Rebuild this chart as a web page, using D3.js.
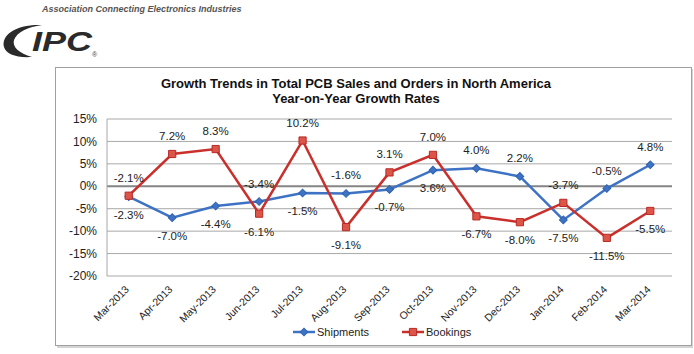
<!DOCTYPE html>
<html>
<head>
<meta charset="utf-8">
<script src="https://cdn.jsdelivr.net/npm/d3@7"></script>
<style>
body { margin: 0; background: #fff; }
svg { display: block; font-family: Arial, "Liberation Sans", sans-serif; }
</style>
</head>
<body>
<svg id="chart" width="694" height="354"></svg>
<script>
var months = ["Mar-2013", "Apr-2013", "May-2013", "Jun-2013", "Jul-2013", "Aug-2013", "Sep-2013",
    "Oct-2013", "Nov-2013", "Dec-2013", "Jan-2014", "Feb-2014", "Mar-2014"];
var shipments = [-2.3, -7.0, -4.4, -3.4, -1.5, -1.6, -0.7, 3.6, 4.0, 2.2, -7.5, -0.5, 4.8];
var bookings = [-2.1, 7.2, 8.3, -6.1, 10.2, -9.1, 3.1, 7.0, -6.7, -8.0, -3.7, -11.5, -5.5];
var yTicks = [-20, -15, -10, -5, 0, 5, 10, 15];
// which side of the point each data label sits on (t = above, b = below)
var shipSide = ["b", "b", "b", "t", "b", "t", "b", "b", "t", "t", "b", "t", "t"];
var bookSide = ["t", "t", "t", "b", "t", "b", "t", "t", "b", "b", "t", "b", "b"];

var svg = d3.select("#chart");
var blue = "#3d72c4", red = "#c9302c";

// page header and logo
svg.append("text")
    .attr("x", 42).attr("y", 12)
    .attr("font-size", 9).attr("font-weight", "bold").attr("font-style", "italic")
    .attr("fill", "#555")
    .text("Association Connecting Electronics Industries");

svg.append("path")
    .attr("d", "M42 25 C16 24 1 35 4 47 C6 54 16 58 32 57 C19 53 12 47 14 40 C17 32 28 27 42 25 Z")
    .attr("fill", "#2a2a2a");
svg.append("text")
    .attr("x", 32).attr("y", 51)
    .attr("font-size", 27).attr("font-weight", "bold").attr("font-style", "italic")
    .attr("textLength", 60).attr("lengthAdjust", "spacingAndGlyphs")
    .attr("fill", "#2a2a2a")
    .text("IPC");
svg.append("text")
    .attr("x", 92).attr("y", 57)
    .attr("font-size", 7).attr("fill", "#444")
    .text("\u00ae");

// chart frame with a soft shadow
svg.append("rect")
    .attr("x", 57).attr("y", 69).attr("width", 636).attr("height", 279)
    .attr("fill", "#d4d4d4");
svg.append("rect")
    .attr("x", 55.5).attr("y", 67.5).attr("width", 636).attr("height", 278)
    .attr("fill", "#fff").attr("stroke", "#a0a0a0");

svg.append("text")
    .attr("x", 356).attr("y", 88)
    .attr("text-anchor", "middle")
    .attr("font-size", 13).attr("font-weight", "bold").attr("fill", "#111")
    .text("Growth Trends in Total PCB Sales and Orders in North America");
svg.append("text")
    .attr("x", 356).attr("y", 103)
    .attr("text-anchor", "middle")
    .attr("font-size", 13).attr("font-weight", "bold").attr("fill", "#111")
    .text("Year-on-Year Growth Rates");

var x = d3.scalePoint().domain(months).range([107, 672]).padding(0.5);
var y = d3.scaleLinear().domain([-20, 15]).range([276, 119]);

// gridlines
svg.append("g")
    .selectAll("line")
    .data(yTicks)
    .enter().append("line")
    .attr("x1", 107).attr("x2", 672)
    .attr("y1", d => y(d)).attr("y2", d => y(d))
    .attr("stroke", d => d === 0 ? "#858585" : "#a8a8a8")
    .attr("stroke-width", d => d === 0 ? 2 : 1);

svg.append("line")
    .attr("x1", 107).attr("x2", 107)
    .attr("y1", y(15)).attr("y2", y(-20))
    .attr("stroke", "#a8a8a8");

// y axis labels
svg.append("g")
    .selectAll("text")
    .data(yTicks)
    .enter().append("text")
    .attr("x", 97).attr("y", d => y(d))
    .attr("dy", "0.35em")
    .attr("text-anchor", "end")
    .attr("font-size", 12).attr("fill", "#222")
    .text(d => d + "%");

// x axis labels, rotated
svg.append("g")
    .selectAll("text")
    .data(months)
    .enter().append("text")
    .attr("transform", d => "translate(" + (x(d) + 1) + ",290) rotate(-45)")
    .attr("text-anchor", "end")
    .attr("font-size", 10.5).attr("fill", "#222")
    .text(d => d);

function drawSeries(values, sides, color, marker) {
    var pts = values.map((v, i) => ({ m: months[i], v: v, side: sides[i] }));
    var line = d3.line().x(d => x(d.m)).y(d => y(d.v));
    var g = svg.append("g");

    g.append("path")
        .attr("d", line(pts))
        .attr("fill", "none")
        .attr("stroke", color)
        .attr("stroke-width", 2.5);

    g.selectAll(".mk")
        .data(pts)
        .enter().append("path")
        .attr("class", "mk")
        .attr("d", marker)
        .attr("transform", d => "translate(" + x(d.m) + "," + y(d.v) + ")" + (color === blue ? " rotate(45)" : ""))
        .attr("fill", color === blue ? blue : "#dc5548")
        .attr("stroke", color === blue ? "#2f62b0" : "#b82a25")
        .attr("stroke-width", 1);

    g.selectAll(".lbl")
        .data(pts)
        .enter().append("text")
        .attr("class", "lbl")
        .attr("x", d => x(d.m))
        .attr("y", d => y(d.v) + (d.side === "t" ? -18 : 18))
        .attr("dy", "0.35em")
        .attr("text-anchor", "middle")
        .attr("font-size", 11.5).attr("fill", "#222")
        .text(d => d.v.toFixed(1) + "%");
}

var diamond = d3.symbol(d3.symbolSquare).size(30)();
var square = d3.symbol(d3.symbolSquare).size(52)();

drawSeries(shipments, shipSide, blue, diamond);
drawSeries(bookings, bookSide, red, square);

// legend
var legend = [
    { name: "Shipments", color: blue, marker: diamond, x: 293 },
    { name: "Bookings", color: red, marker: square, x: 402 }
];
var lg = svg.append("g")
    .selectAll("g")
    .data(legend)
    .enter().append("g")
    .attr("transform", d => "translate(" + d.x + ",332)");

lg.append("line")
    .attr("x1", 0).attr("x2", 22)
    .attr("stroke", d => d.color).attr("stroke-width", 2.5);
lg.append("path")
    .attr("d", d => d.marker)
    .attr("transform", d => "translate(11,0)" + (d.color === blue ? " rotate(45)" : ""))
    .attr("fill", d => d.color === blue ? blue : "#dc5548")
    .attr("stroke", d => d.color === blue ? "#2f62b0" : "#b82a25");
lg.append("text")
    .attr("x", 24).attr("dy", "0.35em")
    .attr("font-size", 11).attr("fill", "#222")
    .text(d => d.name);
</script>
</body>
</html>
